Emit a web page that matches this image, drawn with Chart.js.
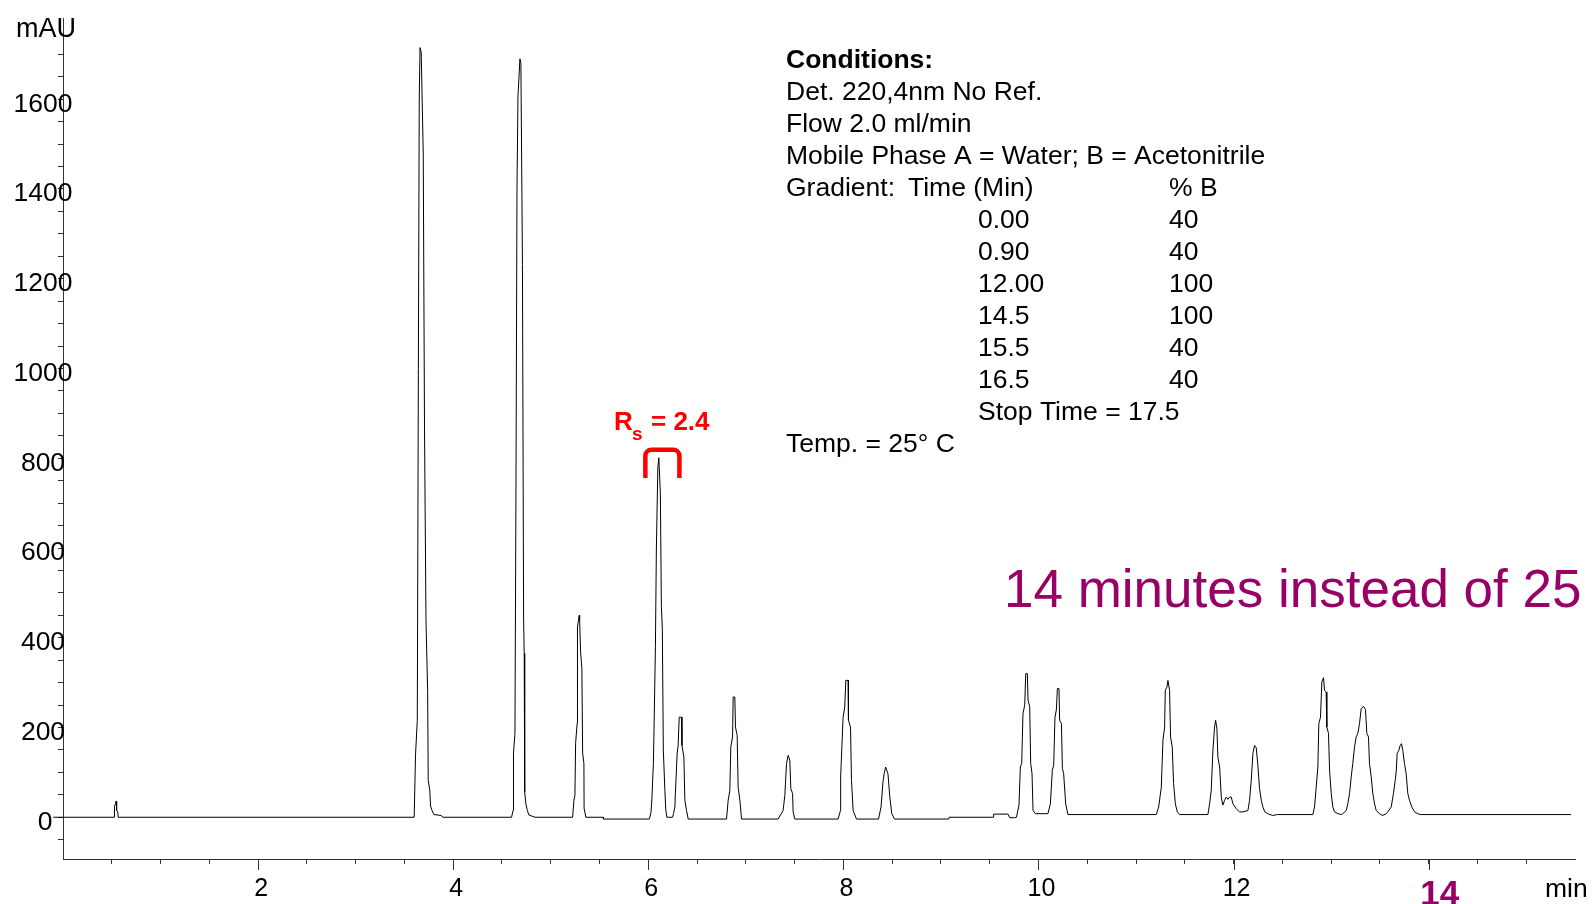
<!DOCTYPE html>
<html>
<head>
<meta charset="utf-8">
<script src="https://cdn.jsdelivr.net/npm/chart.js@4.4.1/dist/chart.umd.min.js"></script>
<style>
  html, body { margin: 0; padding: 0; background: #fff; }
  #wrap { position: relative; width: 1594px; height: 904px; }
</style>
</head>
<body>
<div id="wrap"><canvas id="chrom"></canvas></div>
<script>
// retention time (min) and detector signal (mAU)
const timeMin = [
  -0.1, 0.525, 0.528, 0.538, 0.545, 0.55, 0.562, 0.565,
  3.6, 3.614, 3.632, 3.643, 3.652, 3.66, 3.672, 3.693, 3.706, 3.721, 3.738, 3.744, 3.76, 3.768, 3.783, 3.803, 3.875, 3.896,
  4.598, 4.614, 4.618, 4.633, 4.643, 4.654, 4.664, 4.684, 4.694, 4.71, 4.722, 4.728, 4.733, 4.745, 4.76, 4.776, 4.839,
  5.224, 5.238, 5.248, 5.255, 5.271, 5.274, 5.285, 5.292, 5.296, 5.306, 5.319, 5.327, 5.34, 5.342, 5.36, 5.538, 5.54,
  6.011, 6.027, 6.037, 6.052, 6.06, 6.073, 6.083, 6.098, 6.108, 6.124, 6.134, 6.144, 6.154, 6.17, 6.18, 6.19,
  6.249, 6.258, 6.273, 6.276, 6.296, 6.306, 6.317, 6.341, 6.345, 6.365, 6.375, 6.392, 6.409,
  6.802, 6.819, 6.836, 6.846, 6.864, 6.87, 6.887, 6.894, 6.911, 6.921, 6.939, 6.956,
  7.331, 7.382, 7.4, 7.417, 7.434, 7.451, 7.461, 7.479, 7.485, 7.502,
  7.946, 7.97, 7.972, 7.997, 8.014, 8.025, 8.048, 8.052, 8.073, 8.083, 8.1, 8.134,
  8.36, 8.386, 8.406, 8.418, 8.433, 8.457, 8.476, 8.496, 8.524,
  9.08, 9.085, 9.534, 9.54, 9.688, 9.705, 9.756,
  9.774, 9.8, 9.814, 9.828, 9.841, 9.859, 9.869, 9.886, 9.893, 9.91, 9.92, 9.934, 9.944, 9.968,
  10.097, 10.122, 10.142, 10.156, 10.169, 10.183, 10.194, 10.21, 10.217, 10.235, 10.245, 10.258, 10.279, 10.302,
  11.208, 11.232, 11.259, 11.276, 11.293, 11.3, 11.317, 11.327, 11.344, 11.354, 11.371, 11.385, 11.403, 11.423, 11.447,
  11.737, 11.754, 11.771, 11.788, 11.805, 11.816, 11.829, 11.839, 11.857, 11.874, 11.89, 11.908, 11.925, 11.942, 11.959, 11.976, 11.993, 12.027, 12.061, 12.095, 12.147,
  12.164, 12.181, 12.198, 12.215, 12.232, 12.249, 12.266, 12.284, 12.3, 12.32, 12.35, 12.4, 12.45,
  12.812, 12.83, 12.847, 12.864, 12.874, 12.891, 12.905, 12.922, 12.932, 12.949, 12.956, 12.973, 12.984, 13.001, 13.017, 13.035, 13.069, 13.104,
  13.12, 13.155, 13.171, 13.189, 13.206, 13.222, 13.24, 13.257, 13.274, 13.291, 13.308, 13.332, 13.352, 13.366, 13.383, 13.393, 13.411, 13.427, 13.445, 13.462, 13.496, 13.53, 13.565,
  13.581, 13.616, 13.639, 13.657, 13.667, 13.677, 13.694, 13.708, 13.721, 13.735, 13.752, 13.769, 13.786, 13.803, 13.827, 13.855, 13.889, 13.913, 15.46
];
const signalMAU = [
  0, 0, 25, 30, 36, 15, 12, 0,
  0, 140, 216, 1000, 1600, 1715, 1705, 1480, 870, 440, 283, 82, 60, 25, 15, 6, 4, 0,
  0, 15, 143, 187, 700, 1400, 1605, 1690, 1680, 1232, 439, 365, 56, 30, 15, 5, 0,
  0, 38, 49, 165, 210, 424, 440, 450, 440, 368, 332, 143, 120, 20, 0, 0, -4,
  -4, 10, 40, 120, 210, 380, 600, 780, 801, 720, 470, 420, 150, 60, 15, 0,
  0, 8, 23, 45, 143, 160, 223, 223, 160, 134, 38, 15, -4,
  -4, 38, 60, 157, 179, 268, 268, 201, 182, 67, 38, -4,
  -4, 15, 49, 120, 138, 127, 64, 53, 12, -4,
  -4, 15, 90, 223, 246, 305, 305, 216, 201, 82, 15, -4,
  -4, 23, 79, 97, 112, 97, 45, 8, -4,
  -4, 0, 0, 7, 7, -1, -1,
  0, 27, 112, 120, 231, 250, 320, 320, 261, 246, 120, 97, 15, 8,
  8, 30, 105, 116, 223, 239, 287, 287, 216, 209, 109, 97, 30, 6,
  6, 23, 67, 172, 201, 283, 290, 305, 283, 179, 157, 75, 30, 12, 6,
  6, 30, 60, 149, 201, 216, 198, 134, 112, 45, 27, 38, 45, 40, 45, 45, 30, 19, 12, 12, 15,
  38, 82, 142, 160, 155, 116, 64, 38, 23, 12, 8, 4, 6,
  6, 23, 67, 112, 209, 223, 302, 311, 283, 279, 201, 187, 105, 53, 23, 12, 8, 6,
  8, 15, 30, 53, 90, 120, 157, 179, 187, 209, 242, 247, 240, 187, 179, 120, 90, 53, 30, 15, 8, 4, 8,
  12, 23, 53, 82, 101, 142, 149, 160, 164, 149, 120, 97, 53, 38, 23, 12, 8, 6, 6
];

const yLabelValues = [0, 200, 400, 600, 800, 1000, 1200, 1400, 1600];
const xLabelValues = [2, 4, 6, 8, 10, 12];
const highlightTick = 14;

const conditionLines = [
  'Det. 220,4nm No Ref.',
  'Flow 2.0 ml/min',
  'Mobile Phase A = Water; B = Acetonitrile'
];
const gradientTime = ['0.00', '0.90', '12.00', '14.5', '15.5', '16.5'];
const gradientB = ['40', '40', '100', '100', '40', '40'];

const FONT = "'Liberation Sans', Arial, sans-serif";
const PURPLE = '#990066';

const annotations = {
  id: 'annotations',
  afterDraw(chart) {
    const { ctx, scales: { x, y } } = chart;
    ctx.save();

    // longer ticks at the labelled minutes
    ctx.strokeStyle = '#333';
    ctx.lineWidth = 1;
    xLabelValues.concat([highlightTick]).forEach(v => {
      const px = Math.round(x.getPixelForValue(v)) + 0.5;
      ctx.beginPath();
      ctx.moveTo(px, x.top);
      ctx.lineTo(px, x.top + 11);
      ctx.stroke();
    });

    // y labels sit across the axis line, so draw them outside the scale clip
    ctx.fillStyle = '#000';
    ctx.font = '26.5px ' + FONT;
    ctx.textAlign = 'center';
    ctx.textBaseline = 'middle';
    yLabelValues.forEach(v => ctx.fillText(String(v), v === 0 ? 45 : 43, y.getPixelForValue(v) + 5));

    // the highlighted 14 min label, bold and purple, sits a little right of its tick
    ctx.fillStyle = PURPLE;
    ctx.font = 'bold 35px ' + FONT;
    ctx.textBaseline = 'alphabetic';
    ctx.fillText(String(highlightTick), x.getPixelForValue(highlightTick) + 11, 905);

    ctx.fillStyle = '#000';
    ctx.textAlign = 'left';
    ctx.font = '27px ' + FONT;
    ctx.fillText('mAU', 16, 37);
    ctx.font = '26.5px ' + FONT;
    ctx.fillText('min', 1545, 897);

    // conditions block
    const lx = 786, top = 68, lh = 32;
    ctx.font = 'bold 26.5px ' + FONT;
    ctx.fillText('Conditions:', lx, top);
    ctx.font = '26.5px ' + FONT;
    conditionLines.forEach((s, i) => ctx.fillText(s, lx, top + lh * (i + 1)));
    ctx.fillText('Gradient:', lx, top + lh * 4);
    ctx.fillText('Time (Min)', 908, top + lh * 4);
    ctx.fillText('% B', 1169, top + lh * 4);
    gradientTime.forEach((s, i) => {
      ctx.fillText(s, 978, top + lh * (5 + i));
      ctx.fillText(gradientB[i], 1169, top + lh * (5 + i));
    });
    ctx.fillText('Stop Time = 17.5', 978, top + lh * 11);
    ctx.fillText('Temp. = 25° C', lx, top + lh * 12);

    // big note
    ctx.fillStyle = PURPLE;
    ctx.font = '53px ' + FONT;
    ctx.fillText('14 minutes instead of 25', 1004, 607);

    // resolution label and bracket over the 6.1 min pair
    ctx.fillStyle = '#ff0000';
    ctx.font = 'bold 26px ' + FONT;
    ctx.fillText('R', 614, 430);
    ctx.font = 'bold 19px ' + FONT;
    ctx.fillText('s', 632, 440);
    ctx.font = 'bold 26px ' + FONT;
    ctx.fillText('= 2.4', 651, 430);

    const bx0 = x.getPixelForValue(5.97), bx1 = x.getPixelForValue(6.319);
    const by0 = y.getPixelForValue(819), by1 = y.getPixelForValue(756);
    ctx.strokeStyle = '#ff0000';
    ctx.lineWidth = 4.5;
    ctx.lineJoin = 'round';
    ctx.beginPath();
    ctx.moveTo(bx0, by1);
    ctx.arcTo(bx0, by0, bx0 + 8, by0, 6);
    ctx.arcTo(bx1, by0, bx1, by1, 6);
    ctx.lineTo(bx1, by1);
    ctx.stroke();

    ctx.restore();
  }
};

new Chart(document.getElementById('chrom'), {
  type: 'line',
  data: {
    datasets: [{
      data: timeMin.map((t, i) => ({ x: t, y: signalMAU[i] })),
      borderColor: '#000',
      borderWidth: 1,
      pointRadius: 0,
      tension: 0,
      fill: false,
      clip: false
    }]
  },
  options: {
    responsive: true,
    maintainAspectRatio: false,
    animation: false,
    events: [],
    layout: { padding: { left: 0, top: 18, right: 19, bottom: 0 } },
    plugins: { legend: { display: false }, tooltip: { enabled: false } },
    scales: {
      x: {
        type: 'linear',
        min: 0,
        max: 15.5,
        afterBuildTicks: s => { s.ticks = s.ticks.filter(t => t.value > 0 && t.value < 15.5); },
        afterFit: s => { s.height = 45; },
        border: { color: '#333', width: 1 },
        grid: { drawOnChartArea: false, drawTicks: true, tickLength: 5, color: '#333' },
        ticks: {
          stepSize: 0.5,
          autoSkip: false,
          maxRotation: 0,
          padding: 10,
          labelOffset: 3,
          color: '#000',
          font: { family: FONT, size: 25 },
          callback: v => xLabelValues.includes(v) ? String(v) : ''
        }
      },
      y: {
        min: -93,
        max: 1781,
        afterBuildTicks: s => { s.ticks = s.ticks.filter(t => t.value % 50 === 0 && t.value <= 1700); },
        afterFit: s => { s.width = 63; },
        border: { color: '#333', width: 1 },
        grid: { drawOnChartArea: false, drawTicks: true, tickLength: 5, color: '#333' },
        ticks: {
          stepSize: 50,
          autoSkip: false,
          callback: () => ''
        }
      }
    }
  },
  plugins: [annotations]
});
</script>
</body>
</html>
